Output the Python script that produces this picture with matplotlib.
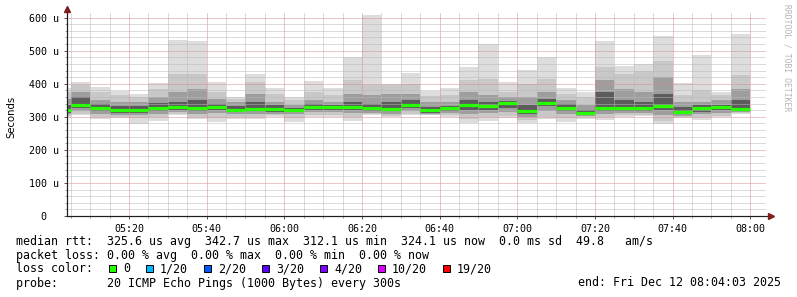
import matplotlib
matplotlib.use("Agg")
import matplotlib.pyplot as plt
import numpy as np
from matplotlib.patches import Rectangle
from matplotlib.lines import Line2D

W, H = 797, 297

# ---- DATA (microseconds, one value per 5 minute step, first step starts 05:00) ----
step_minutes = 5
median = [320, 335, 327, 320, 320, 327, 330, 326, 330, 322, 324, 323,
          322, 330, 330, 330, 326, 325, 335, 320, 326, 336, 332, 342,
          317, 342.7, 328, 312.1, 328, 328, 326, 332, 315, 326, 330, 324.1]
ping_min = [300, 305, 292, 297, 278, 288, 305, 292, 285, 292, 292, 300,
            285, 300, 300, 288, 305, 298, 305, 304, 300, 282, 288, 295,
            282, 292, 285, 292, 290, 300, 302, 278, 295, 290, 298, 310]
ping_max = [387, 404, 389, 379, 368, 401, 532, 529, 404, 361, 429, 386,
            361, 408, 386, 482, 608, 399, 433, 379, 386, 451, 519, 406,
            441, 482, 386, 374, 529, 453, 461, 545, 403, 487, 374, 550]
ping_lo2 = [303, 310, 298, 300, 295, 298, 310, 300, 295, 300, 300, 305,
            295, 305, 305, 298, 308, 303, 310, 306, 305, 292, 298, 302,
            290, 300, 295, 298, 298, 305, 306, 288, 298, 298, 303, 312]
ping_hi2 = [375, 395, 375, 365, 360, 385, 430, 430, 375, 355, 405, 370,
            352, 375, 365, 410, 395, 395, 400, 362, 365, 410, 415, 375,
            400, 415, 370, 360, 450, 430, 440, 470, 365, 380, 365, 425]
ping_lo4 = [307, 318, 308, 305, 305, 310, 316, 308, 312, 308, 310, 310,
            308, 315, 315, 312, 312, 310, 318, 308, 312, 310, 312, 315,
            300, 318, 310, 302, 310, 312, 312, 305, 302, 310, 312, 315]
ping_hi4 = [355, 376, 350, 345, 345, 360, 375, 385, 355, 345, 370, 345,
            335, 350, 345, 370, 365, 370, 370, 345, 345, 375, 365, 360,
            360, 375, 350, 335, 410, 385, 375, 420, 345, 345, 350, 385]
ping_lo7 = [312, 326, 318, 312, 312, 318, 322, 318, 322, 315, 318, 316,
            316, 322, 322, 322, 318, 318, 326, 312, 318, 322, 322, 328,
            310, 332, 318, 306, 318, 318, 318, 320, 308, 316, 320, 318]
ping_hi7 = [335, 360, 338, 332, 333, 342, 345, 350, 340, 332, 345, 335,
            328, 338, 337, 345, 340, 345, 350, 330, 332, 350, 345, 348,
            335, 355, 338, 322, 375, 350, 345, 370, 330, 335, 337, 350]

x_labels = ["05:20", "05:40", "06:00", "06:20", "06:40", "07:00", "07:20", "07:40", "08:00"]

loss_labels = ["0", "1/20", "2/20", "3/20", "4/20", "10/20", "19/20"]
loss_colors = ["#26ff00", "#00b8ff", "#0059ff", "#5e00ff", "#7e00ff", "#dd00ff", "#ff0000"]

legend_rows = [
    "median rtt:  325.6 us avg  342.7 us max  312.1 us min  324.1 us now  0.0 ms sd  49.8   am/s",
    "packet loss: 0.00 % avg  0.00 % max  0.00 % min  0.00 % now",
    "loss color:",
    "probe:       20 ICMP Echo Pings (1000 Bytes) every 300s",
]
end_text = "end: Fri Dec 12 08:04:03 2025"

# ---- FIGURE ------------------------------------------------------------
MONO = "DejaVu Sans Mono"


def fx(x):
    return x / W


def fy(y):
    return 1 - y / H


fig = plt.figure(figsize=(W / 100, H / 100), dpi=100, facecolor="white")
ax = fig.add_axes([fx(67), fy(216), (766 - 67) / W, (216 - 12) / H])
ax.set_xlim(4.05, 184.05)
ax.set_ylim(0, 617)

t = np.arange(len(median)) * step_minutes

# smoke: outer pings lightest, inner pings darkest
layers = [
    (ping_min, ping_max, "#dddddd"),
    (ping_lo2, ping_hi2, "#c8c8c8"),
    (ping_lo4, ping_hi4, "#9e9e9e"),
    (ping_lo7, ping_hi7, "#5c5c5c"),
]
for lo, hi, col in layers:
    lo = np.array(lo)
    hi = np.array(hi)
    ax.bar(t, hi - lo, bottom=lo, width=step_minutes, align="edge",
           color=col, linewidth=0, zorder=1)

ax.hlines(median, t, t + step_minutes, color="#26ff00", linewidth=2.3, zorder=4)

# dotted grid on top of the smoke, like rrdtool
for m in np.arange(5, 185, 5):
    major = m % 20 == 0
    ax.axvline(m, color="#d98e8e" if major else "#b8b8b8", linewidth=0.72,
               linestyle=(0, (1, 1)), zorder=3)
for v in np.arange(20, 620, 20):
    major = v % 100 == 0
    ax.axhline(v, color="#d98e8e" if major else "#b8b8b8", linewidth=0.72,
               linestyle=(0, (1, 1)), zorder=3)

ax.set_xticks(np.arange(20, 181, 20))
ax.set_xticklabels(x_labels, fontsize=7.2, family=MONO)
ax.set_xticks(np.arange(5, 185, 5), minor=True)
ax.set_yticks(np.arange(0, 601, 100))
ax.set_yticklabels(["0  "] + [f"{v} u" for v in range(100, 601, 100)],
                   fontsize=7.2, family=MONO)
ax.set_yticks(np.arange(20, 617, 20), minor=True)
ax.tick_params(which="major", length=2.5, width=0.7, color="#555555", pad=3)
ax.tick_params(which="minor", length=1.5, width=0.7, color="#999999")

for s in ["top", "right"]:
    ax.spines[s].set_visible(False)
ax.spines["left"].set_color("#1f1f1f")
ax.spines["bottom"].set_color("#1f1f1f")
ax.spines["left"].set_linewidth(0.8)
ax.spines["bottom"].set_linewidth(0.8)

# axis arrows
fig.add_artist(Line2D([fx(67), fx(770)], [fy(216), fy(216)], color="#1f1f1f", lw=0.8))
fig.add_artist(Line2D([fx(67), fx(67)], [fy(216), fy(10)], color="#1f1f1f", lw=0.8))
fig.add_artist(Line2D([fx(67)], [fy(9)], marker="^", markersize=4, color="#7f1f1f", lw=0))
fig.add_artist(Line2D([fx(771)], [fy(216)], marker=">", markersize=4, color="#7f1f1f", lw=0))

fig.text(fx(11), fy(117), "Seconds", rotation=90, ha="center", va="center", fontsize=7.3)
fig.text(fx(787), fy(4), "RRDTOOL / TOBI OETIKER", rotation=-90, ha="center", va="top",
         fontsize=5.8, family=MONO, color="#b4b4b4")

# legend
row_y = [241, 255, 269, 283]
for txt, y in zip(legend_rows, row_y):
    fig.text(fx(16), fy(y), txt, ha="left", va="center", fontsize=8.4, family=MONO)

x = 109
for lab, col in zip(loss_labels, loss_colors):
    fig.add_artist(Rectangle((fx(x), fy(272)), 7 / W, 7 / H, facecolor=col,
                             edgecolor="black", linewidth=0.7))
    fig.text(fx(x + 14), fy(269), lab, ha="left", va="center", fontsize=8.4, family=MONO)
    x += 30 + 7 * len(lab)

fig.text(fx(781), fy(283), end_text, ha="right", va="center", fontsize=8.4, family=MONO)

fig.savefig("out.png", dpi=100, facecolor="white")
